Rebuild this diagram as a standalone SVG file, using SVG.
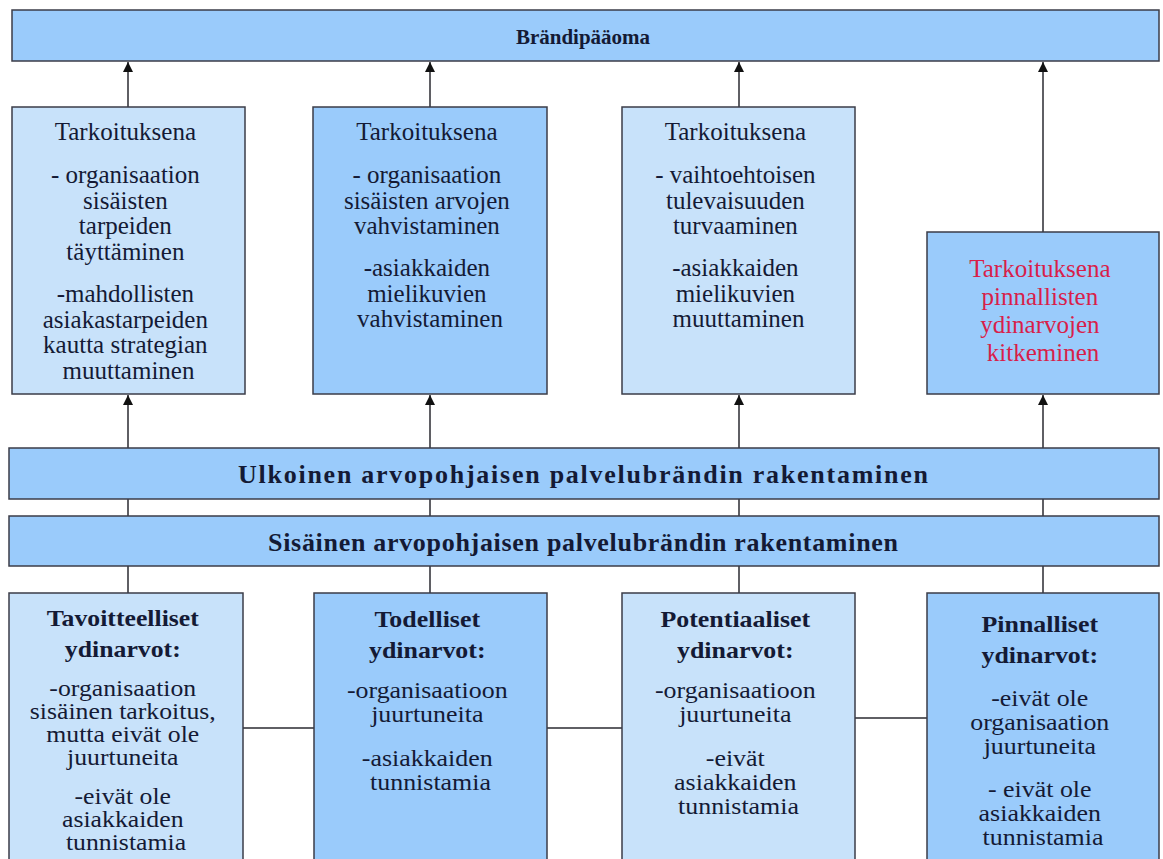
<svg xmlns="http://www.w3.org/2000/svg" width="1163" height="859" viewBox="0 0 1163 859">
<style>
.light{fill:#c8e2fa;stroke:#3b3d48;stroke-width:1.5}
.dark{fill:#9acbfb;stroke:#3b3d48;stroke-width:1.5}
.t{font-family:"Liberation Serif","Tinos","Times New Roman",serif;font-weight:normal;font-size:25px;fill:#141a35;text-anchor:middle}
.s{font-size:24px}
.s2{font-size:23px}
.b{font-weight:bold}
.bar{font-family:"Liberation Serif","Tinos","Times New Roman",serif;font-size:26px;font-weight:bold;fill:#141a35}
.red{fill:#d81e4a}
.c{stroke:#2a2a30;stroke-width:1.5;fill:none}
</style>
<defs>
<marker id="ah" markerUnits="userSpaceOnUse" markerWidth="10" markerHeight="10" refX="10" refY="5" orient="auto">
<path d="M0,0 L10,5 L0,10 z" fill="#111"/>
</marker>
</defs>
<rect width="1163" height="859" fill="#fff"/>

<g id="connectors">
<line class="c" x1="128" y1="107" x2="128" y2="62" marker-end="url(#ah)"/>
<line class="c" x1="430" y1="107" x2="430" y2="62" marker-end="url(#ah)"/>
<line class="c" x1="739" y1="107" x2="739" y2="62" marker-end="url(#ah)"/>
<line class="c" x1="1043" y1="232" x2="1043" y2="62" marker-end="url(#ah)"/>
<line class="c" x1="128" y1="448" x2="128" y2="395" marker-end="url(#ah)"/>
<line class="c" x1="430" y1="448" x2="430" y2="395" marker-end="url(#ah)"/>
<line class="c" x1="739" y1="448" x2="739" y2="395" marker-end="url(#ah)"/>
<line class="c" x1="1043" y1="448" x2="1043" y2="395" marker-end="url(#ah)"/>
<line class="c" x1="128" y1="499" x2="128" y2="516"/>
<line class="c" x1="430" y1="499" x2="430" y2="516"/>
<line class="c" x1="739" y1="499" x2="739" y2="516"/>
<line class="c" x1="1043" y1="499" x2="1043" y2="516"/>
<line class="c" x1="128" y1="566" x2="128" y2="593"/>
<line class="c" x1="430" y1="566" x2="430" y2="593"/>
<line class="c" x1="739" y1="566" x2="739" y2="593"/>
<line class="c" x1="1043" y1="566" x2="1043" y2="593"/>
<line class="c" x1="243" y1="728" x2="314" y2="728"/>
<line class="c" x1="547" y1="728" x2="622" y2="728"/>
<line class="c" x1="855" y1="718" x2="927" y2="718"/>
</g>

<g id="brandipaaoma">
<rect class="dark" x="12" y="10" width="1147" height="51"/>
<text class="bar" x="583" y="44" text-anchor="middle" style="font-size:21px">Brändipääoma</text>
</g>

<g id="tarkoitus1">
<rect class="light" x="12" y="107" width="233" height="287"/>
<text class="t">
<tspan x="128.5" y="140">Tarkoituksena</tspan>
<tspan x="128.5" y="183">- organisaation</tspan>
<tspan x="128.5" y="208.5">sisäisten</tspan>
<tspan x="128.5" y="234">tarpeiden</tspan>
<tspan x="128.5" y="259.5">täyttäminen</tspan>
<tspan x="128.5" y="302">-mahdollisten</tspan>
<tspan x="128.5" y="327.5">asiakastarpeiden</tspan>
<tspan x="128.5" y="353">kautta strategian</tspan>
<tspan x="128.5" y="378.5">muuttaminen</tspan>
</text>
</g>

<g id="tarkoitus2">
<rect class="dark" x="313" y="107" width="234" height="287"/>
<text class="t">
<tspan x="430" y="140">Tarkoituksena</tspan>
<tspan x="430" y="183">- organisaation</tspan>
<tspan x="430" y="208.5">sisäisten arvojen</tspan>
<tspan x="430" y="234">vahvistaminen</tspan>
<tspan x="430" y="276">-asiakkaiden</tspan>
<tspan x="430" y="301.5">mielikuvien</tspan>
<tspan x="430" y="327">vahvistaminen</tspan>
</text>
</g>

<g id="tarkoitus3">
<rect class="light" x="622" y="107" width="233" height="287"/>
<text class="t">
<tspan x="738.5" y="140">Tarkoituksena</tspan>
<tspan x="738.5" y="183">- vaihtoehtoisen</tspan>
<tspan x="738.5" y="208.5">tulevaisuuden</tspan>
<tspan x="738.5" y="234">turvaaminen</tspan>
<tspan x="738.5" y="276">-asiakkaiden</tspan>
<tspan x="738.5" y="301.5">mielikuvien</tspan>
<tspan x="738.5" y="327">muuttaminen</tspan>
</text>
</g>

<g id="tarkoitus4">
<rect class="dark" x="927" y="232" width="232" height="162"/>
<text class="t red">
<tspan x="1043" y="277">Tarkoituksena</tspan>
<tspan x="1043" y="305">pinnallisten</tspan>
<tspan x="1043" y="333">ydinarvojen</tspan>
<tspan x="1043" y="361">kitkeminen</tspan>
</text>
</g>

<g id="ulkoinen">
<rect class="dark" x="9" y="448" width="1150" height="51"/>
<text class="bar" x="238" y="483" textLength="690" lengthAdjust="spacing">Ulkoinen arvopohjaisen palvelubrändin rakentaminen</text>
</g>

<g id="sisainen">
<rect class="dark" x="9" y="516" width="1150" height="50"/>
<text class="bar" x="268" y="551" textLength="630" lengthAdjust="spacing">Sisäinen arvopohjaisen palvelubrändin rakentaminen</text>
</g>

<g id="tavoitteelliset">
<rect class="light" x="9" y="593" width="234" height="280"/>
<text class="t s2" transform="translate(126 0) scale(1.12 1)">
<tspan class="b" x="0" y="626">Tavoitteelliset</tspan>
<tspan class="b" x="0" y="657">ydinarvot:</tspan>
<tspan x="0" y="696">-organisaation</tspan>
<tspan x="0" y="719">sisäinen tarkoitus,</tspan>
<tspan x="0" y="742">mutta eivät ole</tspan>
<tspan x="0" y="765">juurtuneita</tspan>
<tspan x="0" y="804">-eivät ole</tspan>
<tspan x="0" y="827">asiakkaiden</tspan>
<tspan x="0" y="850">tunnistamia</tspan>
</text>
</g>

<g id="todelliset">
<rect class="dark" x="314" y="593" width="233" height="280"/>
<text class="t s" transform="translate(430.5 0) scale(1.08 1)">
<tspan class="b" x="0" y="627">Todelliset</tspan>
<tspan class="b" x="0" y="658">ydinarvot:</tspan>
<tspan x="0" y="698">-organisaatioon</tspan>
<tspan x="0" y="722">juurtuneita</tspan>
<tspan x="0" y="766">-asiakkaiden</tspan>
<tspan x="0" y="790">tunnistamia</tspan>
</text>
</g>

<g id="potentiaaliset">
<rect class="light" x="622" y="593" width="233" height="280"/>
<text class="t s" transform="translate(738.5 0) scale(1.08 1)">
<tspan class="b" x="0" y="627">Potentiaaliset</tspan>
<tspan class="b" x="0" y="658">ydinarvot:</tspan>
<tspan x="0" y="698">-organisaatioon</tspan>
<tspan x="0" y="722">juurtuneita</tspan>
<tspan x="0" y="766">-eivät</tspan>
<tspan x="0" y="790">asiakkaiden</tspan>
<tspan x="0" y="814">tunnistamia</tspan>
</text>
</g>

<g id="pinnalliset">
<rect class="dark" x="927" y="593" width="232" height="280"/>
<text class="t s" transform="translate(1043 0) scale(1.08 1)">
<tspan class="b" x="0" y="632">Pinnalliset</tspan>
<tspan class="b" x="0" y="663">ydinarvot:</tspan>
<tspan x="0" y="706">-eivät ole</tspan>
<tspan x="0" y="730">organisaation</tspan>
<tspan x="0" y="754">juurtuneita</tspan>
<tspan x="0" y="797">- eivät ole</tspan>
<tspan x="0" y="821">asiakkaiden</tspan>
<tspan x="0" y="845">tunnistamia</tspan>
</text>
</g>
</svg>
